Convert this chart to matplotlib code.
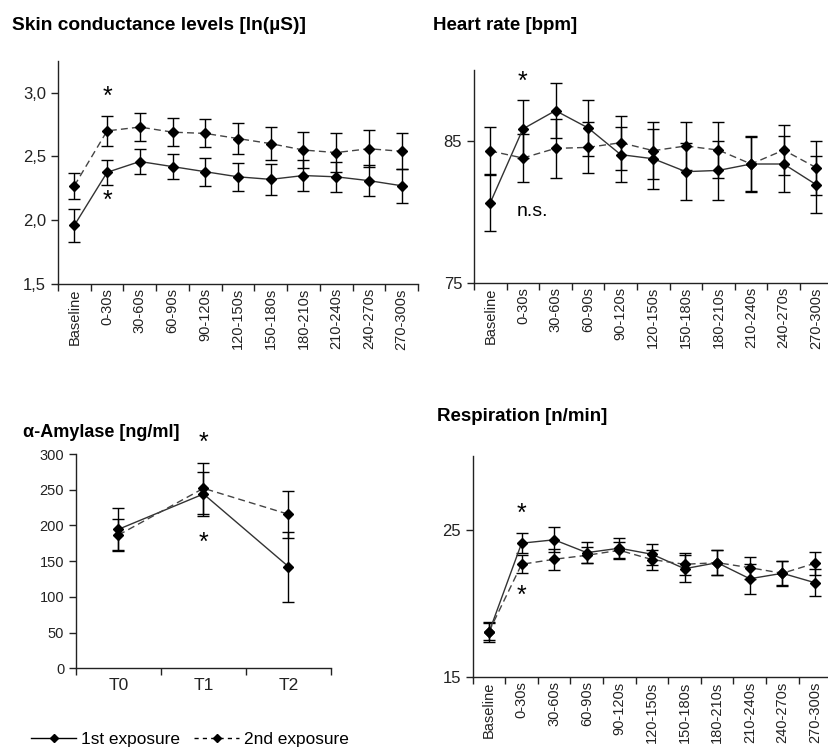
import matplotlib
matplotlib.use('Agg')
import matplotlib.pyplot as plt
import matplotlib.ticker as ticker
from matplotlib.lines import Line2D

plt.rcParams.update({
    'font.family': ['Liberation Sans', 'DejaVu Sans'],
    'axes.linewidth': 1,
    'axes.edgecolor': '#222',
    'xtick.color': '#222',
    'ytick.color': '#222',
    'xtick.direction': 'out',
    'ytick.direction': 'out',
})

# data
periods = ['Baseline', '0-30s', '30-60s', '60-90s', '90-120s', '120-150s',
           '150-180s', '180-210s', '210-240s', '240-270s', '270-300s']

scl_1 = [1.96, 2.375, 2.46, 2.42, 2.38, 2.34, 2.32, 2.35, 2.34, 2.31, 2.27]
scl_1_err = [0.13, 0.10, 0.10, 0.10, 0.11, 0.11, 0.12, 0.12, 0.12, 0.12, 0.135]
scl_2 = [2.27, 2.70, 2.73, 2.69, 2.68, 2.64, 2.60, 2.55, 2.53, 2.56, 2.54]
scl_2_err = [0.10, 0.12, 0.11, 0.11, 0.11, 0.12, 0.13, 0.14, 0.15, 0.145, 0.14]

hr_1 = [80.65, 85.85, 87.14, 85.92, 84.04, 83.75, 82.84, 82.93, 83.38, 83.38, 81.92]
hr_1_err = [2.0, 2.05, 1.95, 2.0, 1.95, 2.1, 2.0, 2.1, 1.95, 1.95, 2.0]
hr_2 = [84.3, 83.8, 84.48, 84.55, 84.88, 84.32, 84.65, 84.36, 83.38, 84.36, 83.12]
hr_2_err = [1.7, 1.7, 2.1, 1.8, 1.9, 2.0, 1.7, 1.95, 1.9, 1.75, 1.9]

amy_times = ['T0', 'T1', 'T2']
amy_1 = [194.6, 244.0, 142.3]
amy_1_err = [29.5, 31.0, 49.0]
amy_2 = [186.6, 252.0, 215.6]
amy_2_err = [22.0, 36.0, 33.0]

resp_1 = [18.05, 24.09, 24.32, 23.45, 23.75, 23.34, 22.36, 22.77, 21.68, 22.05, 21.41]
resp_1_err = [0.68, 0.66, 0.84, 0.7, 0.7, 0.7, 0.9, 0.85, 1.0, 0.85, 0.9]
resp_2 = [18.1, 22.66, 23.0, 23.27, 23.61, 22.98, 22.66, 22.77, 22.43, 22.05, 22.73]
resp_2_err = [0.55, 0.6, 0.7, 0.55, 0.55, 0.68, 0.75, 0.85, 0.75, 0.8, 0.77]

W, H = 829, 753
fig = plt.figure(figsize=(W / 100, H / 100), dpi=100)


def box(x0, x1, ytop, ybot):
    # pixel box -> figure fraction
    return [x0 / W, 1 - ybot / H, (x1 - x0) / W, (ybot - ytop) / H]


def draw(ax, labels, s1, e1, s2, e2):
    x = range(len(labels))
    ax.errorbar(x, s1, yerr=e1, color='#333', ecolor='black', lw=1, elinewidth=1,
                marker='D', ms=5.5, mfc='black', mec='black', capsize=4, capthick=1)
    ax.errorbar(x, s2, yerr=e2, color='#444', ecolor='black', lw=1, elinewidth=1,
                ls=(0, (5, 3)), marker='D', ms=5.5, mfc='black', mec='black',
                capsize=4, capthick=1)
    ax.set_xlim(-0.5, len(labels) - 0.5)
    ax.set_xticks(list(x))
    ax.set_xticklabels(labels)
    ax.xaxis.set_minor_locator(ticker.FixedLocator([i - 0.5 for i in range(len(labels) + 1)]))
    ax.tick_params(axis='x', which='major', length=0)
    ax.tick_params(axis='x', which='minor', length=5, width=1)
    ax.tick_params(axis='y', length=5, width=1, labelsize=12)
    ax.spines['top'].set_visible(False)
    ax.spines['right'].set_visible(False)


star = dict(ha='center', va='center', fontsize=18)
title = dict(fontsize=13.5, fontweight='bold', va='center')

# skin conductance
ax1 = fig.add_axes(box(58, 418, 60.7, 284))
draw(ax1, periods, scl_1, scl_1_err, scl_2, scl_2_err)
ax1.set_ylim(1.5, 3.25)
ax1.set_yticks([1.5, 2.0, 2.5, 3.0])
ax1.yaxis.set_major_formatter(ticker.FuncFormatter(lambda v, p: f'{v:.1f}'.replace('.', ',')))
ax1.tick_params(axis='x', labelrotation=90, labelsize=10.5, pad=3)
ax1.text(1, 2.97, '*', **star)
ax1.text(1, 2.15, '*', **star)
fig.text(12 / W, 1 - 25 / H, 'Skin conductance levels [ln(µS)]',
         fontsize=13.8, fontweight='bold', va='center')

# heart rate
ax2 = fig.add_axes(box(474, 832.6, 70, 283))
draw(ax2, periods, hr_1, hr_1_err, hr_2, hr_2_err)
ax2.set_ylim(75, 90)
ax2.set_yticks([75, 85])
ax2.tick_params(axis='x', labelrotation=90, labelsize=10.5, pad=3)
ax2.text(1, 89.2, '*', **star)
ax2.text(0.8, 80.0, 'n.s.', ha='left', va='center', fontsize=14)
fig.text(433 / W, 1 - 25 / H, 'Heart rate [bpm]', **title)

# amylase
ax3 = fig.add_axes(box(76, 331, 454, 668.3))
draw(ax3, amy_times, amy_1, amy_1_err, amy_2, amy_2_err)
ax3.set_ylim(0, 300)
ax3.set_yticks(range(0, 301, 50))
ax3.tick_params(axis='y', labelsize=10.5)
ax3.tick_params(axis='x', labelsize=12.5, pad=7)
ax3.text(1, 315, '*', clip_on=False, **star)
ax3.text(1, 176, '*', **star)
fig.text(23 / W, 1 - 432 / H, 'α-Amylase [ng/ml]', fontsize=13,
         fontweight='bold', va='center')

# respiration
ax4 = fig.add_axes(box(472.7, 831.3, 456, 677.3))
draw(ax4, periods, resp_1, resp_1_err, resp_2, resp_2_err)
ax4.set_ylim(15, 30)
ax4.set_yticks([15, 25])
ax4.tick_params(axis='x', labelrotation=90, labelsize=10.5, pad=3)
ax4.text(1, 26.1, '*', **star)
ax4.text(1, 20.5, '*', **star)
fig.text(437 / W, 1 - 417 / H, 'Respiration [n/min]', **title)

# legend
h1 = Line2D([], [], color='black', lw=1, marker='D', ms=4.5)
h2 = Line2D([], [], color='black', lw=1, ls=(0, (3, 3)), marker='D', ms=4.5)
fig.legend([h1, h2], ['1st exposure', '2nd exposure'], loc='center left',
           bbox_to_anchor=(16 / W, 1 - 739 / H), ncol=2, frameon=False,
           fontsize=12.4, handlelength=2.6, columnspacing=0.8, handletextpad=0.3)

fig.savefig('out.png', dpi=100)
